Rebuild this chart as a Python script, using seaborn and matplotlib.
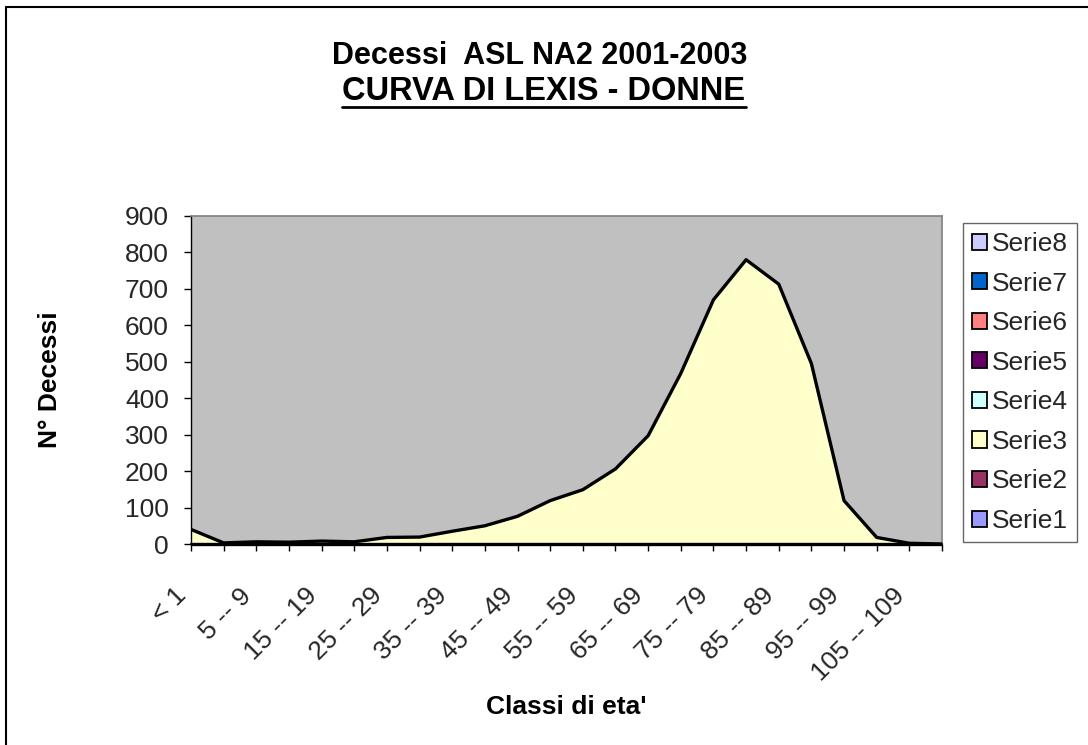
import numpy as np
import pandas as pd
import matplotlib
matplotlib.use("Agg")
import matplotlib.pyplot as plt
import seaborn as sns
from matplotlib.patches import Patch
from matplotlib.lines import Line2D
from matplotlib.transforms import ScaledTranslation

# ---------------- data ----------------
categories = ["< 1", "1 -- 4", "5 -- 9", "10 -- 14", "15 -- 19", "20 -- 24",
              "25 -- 29", "30 -- 34", "35 -- 39", "40 -- 44", "45 -- 49",
              "50 -- 54", "55 -- 59", "60 -- 64", "65 -- 69", "70 -- 74",
              "75 -- 79", "80 -- 84", "85 -- 89", "90 -- 94", "95 -- 99",
              "100 -- 104", "105 -- 109", "110 +"]
deaths_serie3 = [40, 3, 6, 5, 8, 6, 18, 19, 35, 50, 76, 119, 149, 206,
                 297, 468, 670, 780, 713, 495, 119, 18, 2, 0]
series_names = ["Serie8", "Serie7", "Serie6", "Serie5",
                "Serie4", "Serie3", "Serie2", "Serie1"]
series_colors = ["#CCCCFF", "#0066CC", "#FF8080", "#660066",
                 "#CCFFFF", "#FFFFCC", "#993366", "#9999FF"]
y_ticks = [0, 100, 200, 300, 400, 500, 600, 700, 800, 900]

title_line1 = "Decessi  ASL NA2 2001-2003"
title_line2 = "CURVA DI LEXIS - DONNE"
x_title = "Classi di eta'"
y_title = "N° Decessi"

# ---------------- style ----------------
sns.set_theme(style="white")
plt.rcParams["font.family"] = ["Liberation Sans", "DejaVu Sans"]

W, H = 1088, 745
fig = plt.figure(figsize=(W / 100, H / 100), dpi=100)
fig.patch.set_facecolor("white")

ax = fig.add_axes([191 / W, 1 - 544 / H, (942 - 191) / W, (544 - 216) / H])
ax.set_facecolor("#C0C0C0")

df = pd.DataFrame({"pos": np.arange(len(categories)),
                   "category": categories,
                   "deaths": deaths_serie3})

ax.fill_between(df["pos"], 0, df["deaths"], color="#FFFFCC", lw=0, zorder=2)
sns.lineplot(data=df, x="pos", y="deaths", color="black", lw=2.4,
             ax=ax, zorder=3, legend=False)
ax.plot([df["pos"].iloc[0], df["pos"].iloc[-1]], [0, 0], color="black",
        lw=2.4, zorder=4, clip_on=False, solid_capstyle="butt")

ax.set_xlim(0, len(categories) - 1)
ax.set_ylim(y_ticks[0], y_ticks[-1])

for side in ["top", "right"]:
    ax.spines[side].set_color("#808080")
    ax.spines[side].set_linewidth(1.2)
ax.spines["left"].set_color("black")
ax.spines["left"].set_linewidth(1.0)
ax.spines["bottom"].set_color("black")
ax.grid(False)

ax.set_yticks(y_ticks)
ax.set_yticklabels([str(v) for v in y_ticks])
ax.tick_params(axis="y", direction="out", length=5, width=1, color="black",
               pad=11, labelsize=19, left=True)

ax.set_xticks(df["pos"])
ax.set_xticklabels([c if i % 2 == 0 else "" for i, c in enumerate(categories)])
ax.tick_params(axis="x", direction="out", length=5, width=1, color="black",
               pad=23.5, labelsize=19, bottom=True)
offset = ScaledTranslation(-17 / 100, 0, fig.dpi_scale_trans)
for lbl in ax.get_xticklabels():
    lbl.set_rotation(45)
    lbl.set_ha("right")
    lbl.set_va("top")
    lbl.set_rotation_mode("anchor")
    lbl.set_transform(lbl.get_transform() + offset)

ax.set_xlabel(x_title, fontsize=19, fontweight="bold", color="black")
ax.xaxis.label.set_va("baseline")
ax.xaxis.set_label_coords(0.5, (544 - 714) / 328)

ax.set_ylabel(y_title, fontsize=19, fontweight="bold", color="black")
ax.yaxis.label.set_va("baseline")
ax.yaxis.set_label_coords((57 - 191) / 751, 0.5)

# legend
handles = [Patch(facecolor=c, edgecolor="black", lw=1.3, label=n)
           for n, c in zip(series_names, series_colors)]
leg = fig.legend(handles=handles, loc="upper left",
                 bbox_to_anchor=(963 / W, 1 - 223 / H), frameon=True,
                 fancybox=False, fontsize=19, handlelength=0.57,
                 handleheight=0.57, handletextpad=0.2, labelspacing=0.59,
                 borderpad=0.34, borderaxespad=0)
leg.get_frame().set_edgecolor("#404040")
leg.get_frame().set_linewidth(1.0)
leg.get_frame().set_facecolor("white")

# titles
t1 = fig.text(540 / W, 1 - 64 / H, title_line1, ha="center", va="baseline",
              fontsize=22, fontweight="bold", color="black")
t2 = fig.text(544 / W, 1 - 100 / H, title_line2, ha="center", va="baseline",
              fontsize=23.5, fontweight="bold", color="black")

# chart border (left and top only visible)
fig.add_artist(Line2D([6 / W, 6 / W], [0, 1 - 7 / H], transform=fig.transFigure,
                      color="black", lw=1.5))
fig.add_artist(Line2D([6 / W, 1], [1 - 7 / H, 1 - 7 / H],
                      transform=fig.transFigure, color="black", lw=1.5))

fig.canvas.draw()
bb = t2.get_window_extent(renderer=fig.canvas.get_renderer())
fig.add_artist(Line2D([bb.x0 / W, bb.x1 / W], [1 - 107 / H, 1 - 107 / H],
                      transform=fig.transFigure, color="black", lw=2.0))

fig.savefig("out.png", dpi=100, facecolor="white")
